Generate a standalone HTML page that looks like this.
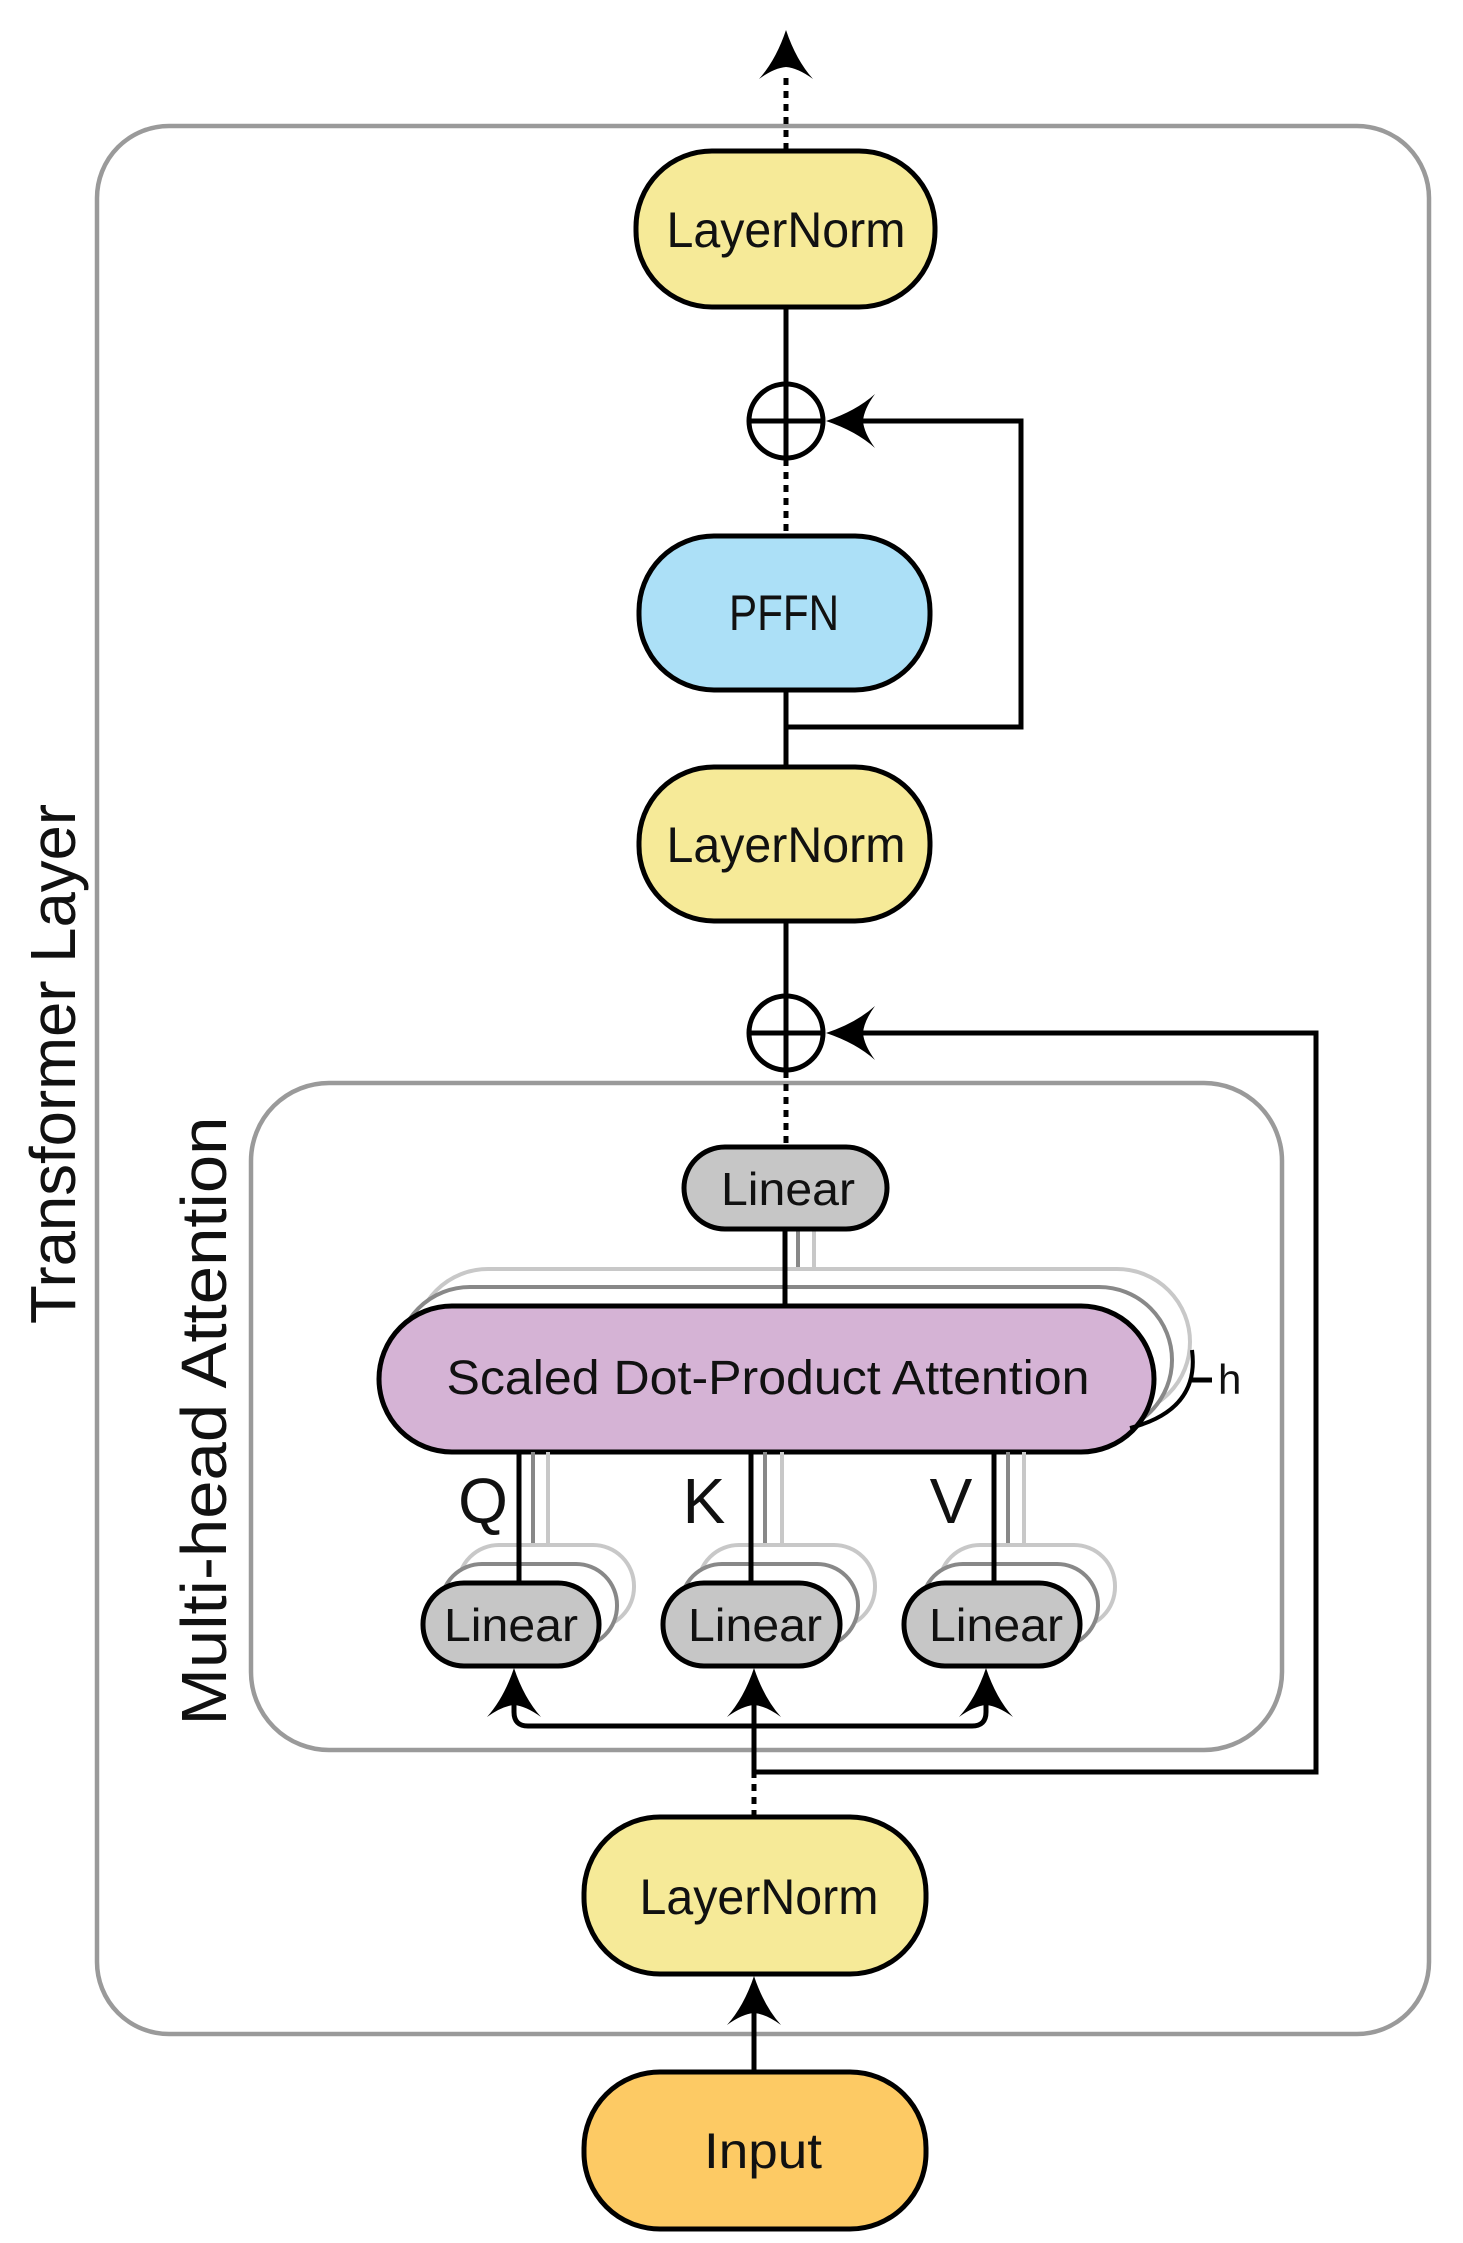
<!DOCTYPE html>
<html><head><meta charset="utf-8"><style>
html,body{margin:0;padding:0;background:#fff;}
svg{display:block;}
text{font-family:"Liberation Sans Narrow","Liberation Sans",sans-serif;fill:#111;}
</style></head><body>
<svg width="1463" height="2243" viewBox="0 0 1463 2243" xmlns="http://www.w3.org/2000/svg">
<defs>
<path id="ah" d="M0,0 Q10,30 27,49 Q12,38 0,37 Q-12,38 -27,49 Q-10,30 0,0 Z" fill="#000"/>
</defs>
<!-- outer box -->
<rect x="97" y="126" width="1332" height="1908" rx="72" fill="none" stroke="#9a9a9a" stroke-width="4.5"/>
<!-- inner box -->
<rect x="251" y="1083" width="1031" height="667" rx="78" fill="none" stroke="#9a9a9a" stroke-width="4.5"/>
<text transform="translate(75,1064) rotate(-90)" text-anchor="middle" font-size="64" textLength="520" lengthAdjust="spacingAndGlyphs">Transformer Layer</text>
<text transform="translate(226,1421) rotate(-90)" text-anchor="middle" font-size="64" textLength="609" lengthAdjust="spacingAndGlyphs">Multi-head Attention</text>

<g stroke="#000" stroke-width="5" fill="none">
<!-- top dotted arrow -->
<line x1="786" y1="78" x2="786" y2="150" stroke-dasharray="7,6"/>
<line x1="786" y1="308" x2="786" y2="383"/>
<line x1="786" y1="459" x2="786" y2="536" stroke-dasharray="7,6"/>
<line x1="786" y1="690" x2="786" y2="767"/>
<polyline points="786,727 1021,727 1021,421 840,421"/>
<line x1="786" y1="921" x2="786" y2="995"/>
<line x1="786" y1="1071" x2="786" y2="1147" stroke-dasharray="7,6"/>
<polyline points="754,1772 1316,1772 1316,1033 840,1033"/>
<!-- circles -->
<circle cx="786" cy="421" r="37"/><line x1="749" y1="421" x2="823" y2="421"/>
<circle cx="786" cy="1033" r="37"/><line x1="749" y1="1033" x2="823" y2="1033"/><line x1="786" y1="996" x2="786" y2="1070"/>
<line x1="786" y1="384" x2="786" y2="458"/>
<!-- K main line -->
<line x1="754" y1="1817" x2="754" y2="1772" stroke-dasharray="7,6"/>
<line x1="754" y1="1772" x2="754" y2="1700"/>
<path d="M514,1700 L514,1712 Q514,1726 528,1726 L972,1726 Q986,1726 986,1712 L986,1700"/>
<line x1="754" y1="2072" x2="754" y2="2010"/>
</g>
<use href="#ah" transform="translate(786,30)"/>
<use href="#ah" transform="translate(826,421) rotate(-90)"/>
<use href="#ah" transform="translate(826,1033) rotate(-90)"/>
<use href="#ah" transform="translate(514,1668)"/>
<use href="#ah" transform="translate(754,1668)"/>
<use href="#ah" transform="translate(986,1668)"/>
<use href="#ah" transform="translate(754,1976)"/>

<!-- main boxes -->
<g stroke="#000" stroke-width="5">
<rect x="636" y="151" width="299" height="156" rx="76" fill="#f6ea98"/>
<rect x="639" y="536" width="291" height="154" rx="75" fill="#ace0f7"/>
<rect x="639" y="767" width="291" height="154" rx="75" fill="#f6ea98"/>
<rect x="584" y="1817" width="342" height="157" rx="76" fill="#f6ea98"/>
<rect x="584" y="2072" width="342" height="157" rx="76" fill="#fdca64"/>
</g>
<text x="786" y="247" text-anchor="middle" font-size="50" textLength="239" lengthAdjust="spacingAndGlyphs">LayerNorm</text>
<text x="784" y="630" text-anchor="middle" font-size="50" textLength="110" lengthAdjust="spacingAndGlyphs">PFFN</text>
<text x="786" y="862" text-anchor="middle" font-size="50" textLength="239" lengthAdjust="spacingAndGlyphs">LayerNorm</text>
<text x="759" y="1914" text-anchor="middle" font-size="50" textLength="239" lengthAdjust="spacingAndGlyphs">LayerNorm</text>
<text x="763" y="2168" text-anchor="middle" font-size="50" textLength="118" lengthAdjust="spacingAndGlyphs">Input</text>

<!-- SDPA ghosts and lines -->
<g fill="none" stroke-width="4">
<line x1="814" y1="1229" x2="814" y2="1270" stroke="#c8c8c8"/>
<line x1="798" y1="1229" x2="798" y2="1288" stroke="#888"/>
<rect x="415" y="1269" width="775" height="146" rx="73" fill="#fff" stroke="#c8c8c8"/>
<rect x="397" y="1287" width="775" height="146" rx="73" fill="#fff" stroke="#888"/>
</g>
<line x1="785" y1="1229" x2="785" y2="1306" stroke="#000" stroke-width="5"/>
<rect x="379" y="1306" width="775" height="146" rx="73" fill="#d5b3d5" stroke="#000" stroke-width="5"/>
<text x="768" y="1394" text-anchor="middle" font-size="48" textLength="643" lengthAdjust="spacingAndGlyphs">Scaled Dot-Product Attention</text>
<path d="M1192,1350 Q1200,1410 1130,1428" fill="none" stroke="#000" stroke-width="4"/>
<line x1="1192" y1="1380" x2="1212" y2="1380" stroke="#000" stroke-width="5"/>
<text x="1218" y="1394" font-size="42">h</text>

<!-- top linear -->
<rect x="684" y="1147" width="203" height="82" rx="41" fill="#c6c6c6" stroke="#000" stroke-width="5"/>
<text x="788" y="1205" text-anchor="middle" font-size="46" textLength="134" lengthAdjust="spacingAndGlyphs">Linear</text>

<!-- QKV -->
<g fill="none" stroke-width="4">
<line x1="548" y1="1452" x2="548" y2="1545" stroke="#c8c8c8"/>
<line x1="533" y1="1452" x2="533" y2="1564" stroke="#888"/>
<line x1="782" y1="1452" x2="782" y2="1545" stroke="#c8c8c8"/>
<line x1="765" y1="1452" x2="765" y2="1564" stroke="#888"/>
<line x1="1024" y1="1452" x2="1024" y2="1545" stroke="#c8c8c8"/>
<line x1="1008" y1="1452" x2="1008" y2="1564" stroke="#888"/>
<rect x="458" y="1545" width="176" height="83" rx="41" fill="#fff" stroke="#c8c8c8"/>
<rect x="441" y="1564" width="176" height="83" rx="41" fill="#fff" stroke="#888"/>
<rect x="698" y="1545" width="177" height="83" rx="41" fill="#fff" stroke="#c8c8c8"/>
<rect x="681" y="1564" width="177" height="83" rx="41" fill="#fff" stroke="#888"/>
<rect x="939" y="1545" width="176" height="83" rx="41" fill="#fff" stroke="#c8c8c8"/>
<rect x="922" y="1564" width="176" height="83" rx="41" fill="#fff" stroke="#888"/>
</g>
<g stroke="#000" stroke-width="5">
<line x1="519" y1="1452" x2="519" y2="1583"/>
<line x1="751" y1="1452" x2="751" y2="1583"/>
<line x1="994" y1="1452" x2="994" y2="1583"/>
<rect x="423" y="1583" width="176" height="83" rx="41" fill="#c6c6c6"/>
<rect x="663" y="1583" width="177" height="83" rx="41" fill="#c6c6c6"/>
<rect x="904" y="1583" width="176" height="83" rx="41" fill="#c6c6c6"/>
</g>
<text x="511" y="1641" text-anchor="middle" font-size="46" textLength="134" lengthAdjust="spacingAndGlyphs">Linear</text>
<text x="755" y="1641" text-anchor="middle" font-size="46" textLength="134" lengthAdjust="spacingAndGlyphs">Linear</text>
<text x="996" y="1641" text-anchor="middle" font-size="46" textLength="134" lengthAdjust="spacingAndGlyphs">Linear</text>
<text x="483" y="1523" text-anchor="middle" font-size="64">Q</text>
<text x="704" y="1523" text-anchor="middle" font-size="64">K</text>
<text x="951" y="1523" text-anchor="middle" font-size="64">V</text>
</svg>
</body></html>
